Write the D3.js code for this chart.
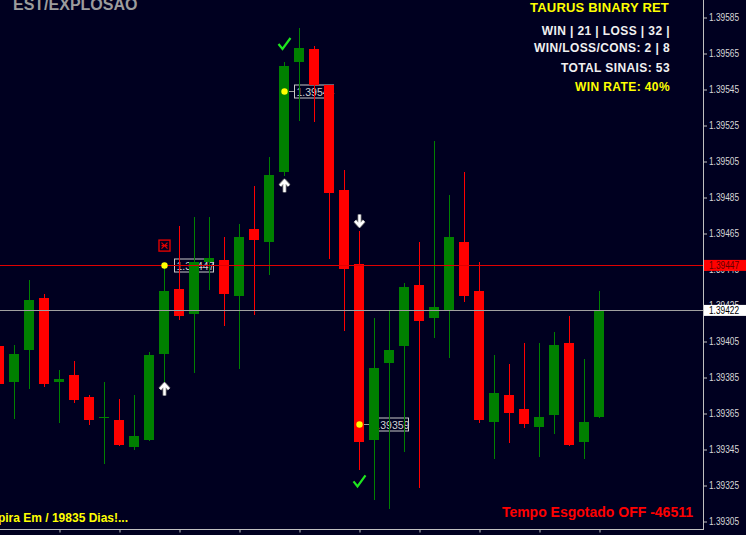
<!DOCTYPE html>
<html><head><meta charset="utf-8">
<script src="https://cdn.jsdelivr.net/npm/d3@7"></script>
<style>html,body{margin:0;padding:0;background:#000020;overflow:hidden}</style>
</head><body><svg id="c" width="746" height="535"></svg>
<script>
// ---- data ----
const opens  = [1.39402,1.39382,1.39400,1.39429,1.39382,1.39386,1.39374,1.39362,1.39361,1.39346,
                1.39350,1.39398,1.39434,1.39420,1.39449,1.39450,1.39430,1.39467,1.39460,1.39499,
                1.39560,1.39567,1.39547,1.39489,1.39448,1.39350,1.39393,1.39402,1.39436,1.39418,
                1.39422,1.39460,1.39433,1.39360,1.39375,1.39367,1.39357,1.39364,1.39404,1.39349,1.39363];
const highs  = [1.39406,1.39403,1.39439,1.39431,1.39389,1.39394,1.39375,1.39382,1.39373,1.39375,
                1.39399,1.39447,1.39469,1.39474,1.39474,1.39463,1.39470,1.39491,1.39507,1.39560,
                1.39579,1.39569,1.39547,1.39500,1.39466,1.39418,1.39422,1.39437,1.39460,1.39516,
                1.39486,1.39499,1.39449,1.39397,1.39392,1.39404,1.39404,1.39410,1.39419,1.39395,1.39433];
const lows   = [1.39377,1.39362,1.39379,1.39380,1.39360,1.39371,1.39359,1.39337,1.39347,1.39345,
                1.39350,1.39383,1.39417,1.39388,1.39434,1.39414,1.39390,1.39420,1.39442,1.39497,
                1.39528,1.39527,1.39451,1.39411,1.39334,1.39317,1.39312,1.39344,1.39324,1.39407,
                1.39396,1.39427,1.39360,1.39340,1.39349,1.39357,1.39341,1.39354,1.39347,1.39340,1.39363];
const closes = [1.39381,1.39398,1.39428,1.39381,1.39384,1.39372,1.39361,1.39363,1.39347,1.39352,
                1.39397,1.39433,1.39419,1.39449,1.39451,1.39431,1.39463,1.39461,1.39497,1.39558,
                1.39568,1.39547,1.39487,1.39445,1.39349,1.39390,1.39400,1.39435,1.39416,1.39424,
                1.39463,1.39430,1.39361,1.39376,1.39365,1.39359,1.39363,1.39403,1.39347,1.39360,1.39422];

const priceTicks = [1.39585,1.39565,1.39545,1.39525,1.39505,1.39485,1.39465,1.39445,
                    1.39425,1.39405,1.39385,1.39365,1.39345,1.39325,1.39305];
const timeTickIdx = [4,8,12,16,20,24,28,32,36,40];

const redLinePrice = 1.39447;
const lastPrice = 1.39422;

const signalIdx    = [11, 19, 24];
const signalDir    = ["up", "up", "down"];
const entryPrices  = [1.39447, 1.39544, 1.39359];
const arrowPrices  = [1.39378, 1.39491, 1.39472];
const resultType   = ["loss", "win", "win"];
const resultPrices = [1.39458, 1.39570, 1.39327];

const titleText = "EST/EXPLOSAO";
const panelTitle = "TAURUS BINARY RET";
const panelLines = ["WIN | 21 | LOSS | 32 |", "WIN/LOSS/CONS: 2 | 8", "TOTAL SINAIS: 53"];
const winRateText = "WIN RATE: 40%";
const expiryText = "Expira Em / 19835 Dias!...";
const timeoutText = "Tempo Esgotado OFF -46511";

// ---- chart ----
const W = 746, H = 535, plotR = 704, plotB = 530;
const BG = "#000020", GREEN = "#008000", RED = "#ff0000";
const svg = d3.select("#c");
svg.append("rect").attr("width", W).attr("height", H).attr("fill", BG);

const x = d3.scaleLinear().domain([0, 40]).range([-1, 599]);
const y = d3.scaleLinear().domain([1.39305, 1.39585]).range([521, 17]);
const fmt = d3.format(".5f");
const px = i => Math.round(x(i));

const candles = opens.map((o, i) => ({i, o, h: highs[i], l: lows[i], c: closes[i]}));

// signal label boxes (behind candles)
const sig = signalIdx.map((k, j) => ({k, dir: signalDir[j], entry: entryPrices[j], arrow: arrowPrices[j], res: resultType[j], resP: resultPrices[j]}));
const gBox = svg.append("g");
sig.forEach(s => {
  const cx = px(s.k), cy = Math.round(y(s.entry));
  gBox.append("line").attr("x1", cx).attr("x2", cx + 10).attr("y1", cy + 0.5).attr("y2", cy + 0.5)
    .attr("stroke", "#a0a0a0").attr("stroke-width", 1);
  gBox.append("rect").attr("x", cx + 10.5).attr("y", cy - 6).attr("width", 39).attr("height", 13)
    .attr("fill", BG).attr("stroke", "#c8c8c8").attr("stroke-width", 1);
  gBox.append("text").attr("x", cx + 12.5).attr("y", cy + 4.5).text(fmt(s.entry))
    .attr("font-family", "Liberation Sans, Arial, sans-serif").attr("font-size", 10.5)
    .attr("fill", "#d0d0d0");
});

// candles
const gC = svg.append("g");
gC.selectAll("line.wick").data(candles).join("line")
  .attr("x1", d => px(d.i) + 0.5).attr("x2", d => px(d.i) + 0.5)
  .attr("y1", d => Math.round(y(d.h))).attr("y2", d => Math.round(y(d.l)) + 1)
  .attr("stroke", d => d.c >= d.o ? GREEN : RED).attr("stroke-width", 1);
gC.selectAll("rect.body").data(candles).join("rect")
  .attr("x", d => px(d.i) - 5).attr("width", 10)
  .attr("y", d => Math.round(y(Math.max(d.o, d.c))))
  .attr("height", d => Math.max(1, Math.round(y(Math.min(d.o, d.c))) - Math.round(y(Math.max(d.o, d.c)))))
  .attr("fill", d => d.c >= d.o ? GREEN : RED);

// horizontal price lines
svg.append("line").attr("x1", 0).attr("x2", plotR).attr("y1", Math.round(y(redLinePrice)) + 0.5).attr("y2", Math.round(y(redLinePrice)) + 0.5)
  .attr("stroke", "#e00000").attr("stroke-width", 1);
svg.append("line").attr("x1", 0).attr("x2", plotR).attr("y1", Math.round(y(lastPrice)) + 0.5).attr("y2", Math.round(y(lastPrice)) + 0.5)
  .attr("stroke", "#a0a0a0").attr("stroke-width", 1);

// axes
const axisCol = "#c0c0c0";
svg.append("line").attr("x1", plotR - 0.5).attr("x2", plotR - 0.5).attr("y1", 0).attr("y2", plotB)
  .attr("stroke", axisCol);
svg.append("line").attr("x1", 0).attr("x2", plotR).attr("y1", plotB - 0.5).attr("y2", plotB - 0.5)
  .attr("stroke", axisCol);

const yAxis = svg.append("g").attr("transform", `translate(${plotR},0.5)`)
  .call(d3.axisRight(y).tickValues(priceTicks).tickSize(3).tickPadding(2).tickFormat(fmt));
yAxis.select(".domain").remove();
yAxis.selectAll("line").attr("stroke", axisCol);
yAxis.selectAll("text").attr("fill", "#d8d8d8").attr("font-family", "Liberation Sans, Arial, sans-serif")
  .attr("font-size", 10).attr("textLength", 30).attr("lengthAdjust", "spacingAndGlyphs");

const xAxis = svg.append("g").attr("transform", `translate(0.5,${plotB - 0.5})`)
  .call(d3.axisBottom(x).tickValues(timeTickIdx).tickSize(3).tickFormat(""));
xAxis.select(".domain").remove();
xAxis.selectAll("line").attr("stroke", axisCol).attr("transform", d => `translate(${px(d) - x(d)},0)`);

// price tags on axis
function priceTag(p, fill, txt) {
  const cy = y(p);
  svg.append("rect").attr("x", plotR).attr("y", cy - 5.5).attr("width", W - plotR).attr("height", 11).attr("fill", fill);
  svg.append("text").attr("x", plotR + 5).attr("y", cy + 4).text(fmt(p))
    .attr("font-family", "Liberation Sans, Arial, sans-serif").attr("font-size", 10)
    .attr("textLength", 30).attr("lengthAdjust", "spacingAndGlyphs").attr("fill", txt);
}
priceTag(redLinePrice, "#ff0000", "#600000");
priceTag(lastPrice, "#ffffff", "#000000");

// markers
const gM = svg.append("g");
sig.forEach(s => {
  const cx = px(s.k) + 0.5;
  gM.append("circle").attr("cx", cx).attr("cy", Math.round(y(s.entry)) + 0.5).attr("r", 3.2).attr("fill", "#ffff00");
  const ay = y(s.arrow), d = s.dir === "up" ? 1 : -1;
  const path = `M${cx},${ay + 6 * d}L${cx},${ay - 5 * d}M${cx - 4.5},${ay - 0.5 * d}L${cx},${ay - 5.5 * d}L${cx + 4.5},${ay - 0.5 * d}`;
  gM.append("path").attr("d", path).attr("fill", "none").attr("stroke", "#707070").attr("stroke-width", 4).attr("stroke-linejoin", "round");
  gM.append("path").attr("d", path).attr("fill", "none").attr("stroke", "#ffffff").attr("stroke-width", 2.4).attr("stroke-linejoin", "miter");
  const ry = y(s.resP);
  if (s.res === "win") {
    gM.append("path").attr("d", `M${cx - 6},${ry}L${cx - 2},${ry + 5}L${cx + 6},${ry - 6}`)
      .attr("fill", "none").attr("stroke", "#1ee61e").attr("stroke-width", 2.2);
  } else {
    gM.append("rect").attr("x", cx - 5.5).attr("y", ry - 5.5).attr("width", 11).attr("height", 11)
      .attr("fill", "none").attr("stroke", "#e00000").attr("stroke-width", 1.4);
    gM.append("path").attr("d", `M${cx - 3},${ry - 3}L${cx + 3},${ry + 3}M${cx + 3},${ry - 3}L${cx - 3},${ry + 3}M${cx - 3},${ry}L${cx + 3},${ry}`)
      .attr("fill", "none").attr("stroke", "#e00000").attr("stroke-width", 1.2);
  }
});

// texts
const F = "Liberation Sans, Arial, sans-serif";
svg.append("text").attr("x", 13).attr("y", 10).text(titleText)
  .attr("font-family", F).attr("font-weight", "bold").attr("font-size", 16).attr("fill", "#9c9c9c");
svg.append("text").attr("x", 669).attr("y", 12).attr("text-anchor", "end").text(panelTitle)
  .attr("font-family", F).attr("font-weight", "bold").attr("font-size", 13).attr("letter-spacing", 0.2).attr("fill", "#ffff00");
const lineY = [34.5, 52, 72];
panelLines.forEach((t, i) => {
  svg.append("text").attr("x", 670).attr("y", lineY[i]).attr("text-anchor", "end").text(t)
    .attr("font-family", F).attr("font-weight", "bold").attr("font-size", 12).attr("letter-spacing", 0.4)
    .attr("fill", "#f0f0f0");
});
svg.append("text").attr("x", 670).attr("y", 91).attr("text-anchor", "end").text(winRateText)
  .attr("font-family", F).attr("font-weight", "bold").attr("font-size", 12).attr("letter-spacing", 0.4).attr("fill", "#ffff00");
svg.append("text").attr("x", 128).attr("y", 522).attr("text-anchor", "end").text(expiryText)
  .attr("font-family", F).attr("font-weight", "bold").attr("font-size", 12).attr("fill", "#ffff00");
svg.append("text").attr("x", 693).attr("y", 516.5).attr("text-anchor", "end").text(timeoutText)
  .attr("font-family", F).attr("font-weight", "bold").attr("font-size", 14).attr("fill", "#ff0000");
</script></body></html>
